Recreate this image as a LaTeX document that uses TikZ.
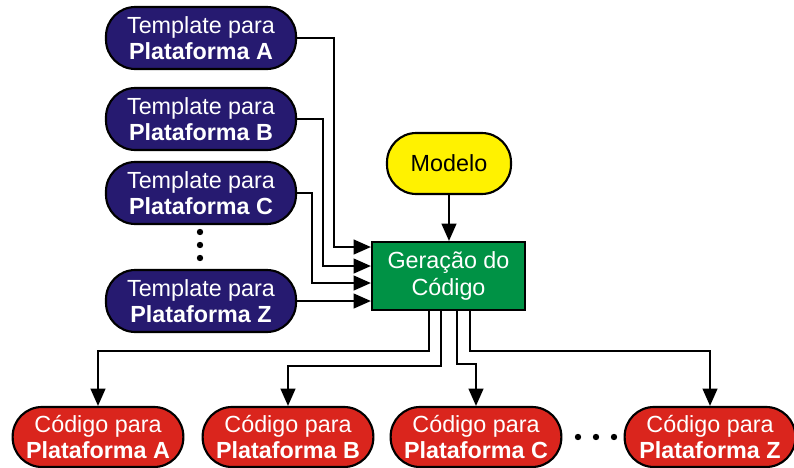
\documentclass[tikz,border=0pt]{standalone}
\usepackage{fontspec}
\setmainfont{Liberation Sans}
\usetikzlibrary{arrows.meta}

\definecolor{tmplblue}{RGB}{38,26,112}
\definecolor{modelyellow}{RGB}{255,242,0}
\definecolor{gengreen}{RGB}{0,146,69}
\definecolor{codered}{RGB}{218,37,29}

\tikzset{
  pill/.style={draw=black, line width=1.6pt, rounded corners=22pt, align=center, inner sep=0pt,
    font=\fontsize{17.5}{20}\selectfont},
  tmpl/.style={pill, fill=tmplblue, text=white, minimum width=142.5pt, minimum height=46.5pt},
  code/.style={pill, fill=codered, text=white, minimum width=128pt, minimum height=45pt},
  modelo/.style={pill, fill=modelyellow, text=black, minimum width=93pt, minimum height=45.75pt},
  genbox/.style={draw=black, line width=1.6pt, fill=gengreen, text=white, align=center, inner sep=0pt,
    minimum width=114.75pt, minimum height=51pt, font=\fontsize{17.5}{20}\selectfont},
  arr/.style={line width=1.7pt, -{Triangle[length=13pt,width=11pt]}}
}

\begin{document}
\begin{tikzpicture}[x=0.75pt,y=0.75pt,yscale=-1,xscale=1]
\useasboundingbox (0,0) rectangle (794,468);

% Templates
\node[tmpl] (tA) at (201,38) {Template para\\\textbf{Plataforma A}};
\node[tmpl] (tB) at (201,119) {Template para\\\textbf{Plataforma B}};
\node[tmpl] (tC) at (201,193) {Template para\\\textbf{Plataforma C}};
\node[tmpl] (tZ) at (201,301) {Template para\\\textbf{Plataforma Z}};
% vertical dots
\foreach \y in {232,245,258} \fill (200,\y) circle (3.2);

% Model and generator
\node[modelo] (mod) at (449,163.5) {Modelo};
\node[genbox] (gen) at (448.5,276) {Geração do\\Código};

% Generated code
\node[code] (cA) at (98,437) {Código para\\\textbf{Plataforma A}};
\node[code] (cB) at (288,437) {Código para\\\textbf{Plataforma B}};
\node[code] (cC) at (476,437) {Código para\\\textbf{Plataforma C}};
\node[code] (cZ) at (710,437) {Código para\\\textbf{Plataforma Z}};
% horizontal dots
\foreach \x in {578,596,614} \fill (\x,437) circle (3.2);

% Inputs (yshift is flipped by yscale=-1)
\draw[arr] (tA.east) -- ++(37,0) |- ([yshift=-21.75pt]gen.west);
\draw[arr] (tB.east) -- ++(26,0) |- ([yshift=-7.5pt]gen.west);
\draw[arr] (tC.east) -- ++(15,0) |- ([yshift=5.25pt]gen.west);
\draw[arr] (tZ.east) -- (tZ.east -| gen.west);
\draw[arr] (mod.south) -- (mod.south |- gen.north);

% Outputs
\draw[arr] ([xshift=-14.6pt]gen.south) -- ++(0,40) -| (cA.north);
\draw[arr] ([xshift=-5.6pt]gen.south) -- ++(0,55) -| (cB.north);
\draw[arr] ([xshift=6.4pt]gen.south) -- ++(0,53) -| (cC.north);
\draw[arr] ([xshift=16.1pt]gen.south) -- ++(0,40) -| (cZ.north);

\end{tikzpicture}
\end{document}
